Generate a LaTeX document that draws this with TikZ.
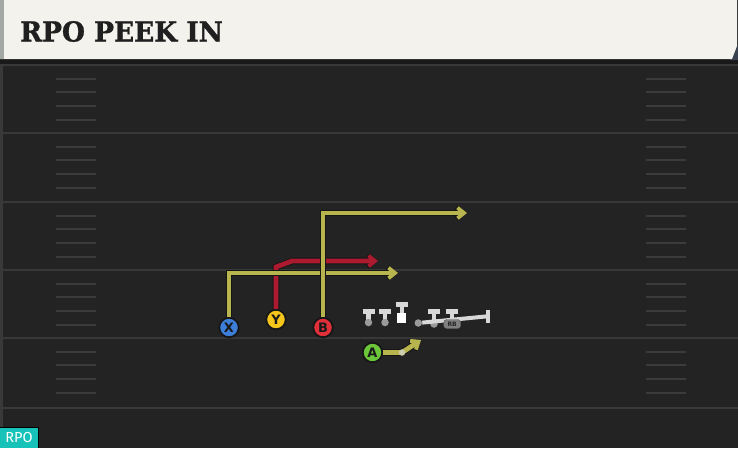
\documentclass[tikz,border=0pt]{standalone}
\usepackage{fontspec}
\usetikzlibrary{arrows.meta}
\newfontfamily\titlefont{DejaVu Serif}[BoldFeatures={FakeBold=1.2}]
\newfontfamily\lblfont{DejaVu Sans}
\newfontfamily\tagfont{Fira Sans}
\definecolor{fieldbg}{HTML}{232323}
\definecolor{fieldline}{HTML}{383838}
\definecolor{hashc}{HTML}{3B3B3B}
\definecolor{headbg}{HTML}{F4F2EC}
\definecolor{headstripe}{HTML}{A4A8A4}
\definecolor{cornerc}{HTML}{3A4250}
\definecolor{olive}{HTML}{B8B44E}
\definecolor{crimson}{HTML}{AC1A30}
\definecolor{xblue}{HTML}{3C7ED8}
\definecolor{yyellow}{HTML}{F4C61C}
\definecolor{bred}{HTML}{E2303A}
\definecolor{agreen}{HTML}{6CC63A}
\definecolor{olgray}{HTML}{D8D8D8}
\definecolor{dotgray}{HTML}{9A9A9A}
\definecolor{tealc}{HTML}{17C3B8}
\definecolor{casing}{HTML}{161616}
\tikzset{
  player/.style={circle, draw=casing, line width=1.8pt, minimum size=19.5pt, inner sep=0pt,
    font=\lblfont\bfseries\fontsize{13}{13}\selectfont, text=black!90},
  route/.style={line width=4.8pt, line join=miter, -{Straight Barb[length=6.5pt,width=10.5pt,line width=3.8pt]},
    preaction={draw=casing, line width=6.6pt, -{Straight Barb[length=6.5pt,width=10.5pt,line width=5.6pt]}}},
  yardline/.style={fieldline, line width=2pt},
  hashmark/.style={hashc, line width=2pt},
  blockbar/.style={olgray, line width=5pt},
  blockstem/.style={olgray, line width=4.2pt},
  lmdot/.style={circle, fill=dotgray, inner sep=0pt, minimum size=7.5pt},
}
\begin{document}
\begin{tikzpicture}[x=1pt,y=-1pt]
\useasboundingbox (0,0) rectangle (738,448);
% field
\fill[fieldbg] (0,0) rectangle (738,448);
\fill[black!28!fieldbg] (0,59) rectangle (738,64);
\fill[fieldbg!90!white] (0,64) rectangle (3,448);
% yard lines
\foreach \yy in {65,133,202,270,338,408}
  \draw[yardline] (0,\yy) -- (738,\yy);
% hash marks
\foreach \yy in {65,133,202,270,338}
  \foreach \k in {1,2,3,4} {
    \draw[hashmark] (56,\yy+13.7*\k) -- (96,\yy+13.7*\k);
    \draw[hashmark] (646,\yy+13.7*\k) -- (686,\yy+13.7*\k);
  }
% header
\fill[cornerc] (734,46) -- (738,46) -- (738,60) -- (730,60) -- cycle;
\fill[headbg] (0,0) -- (737,0) -- (737,46) -- (732,59) -- (0,59) -- cycle;
\fill[headstripe] (0,0) rectangle (4,59);
\node[anchor=base west, inner sep=0pt, xscale=0.96, font=\titlefont\bfseries\fontsize{27.5}{27.5}\selectfont, text=black!88] (title) at (20,41.5) {RPO PEEK IN};
% RPO tag
\fill[black] (0,427) rectangle (38.5,448);
\node[fill=tealc, anchor=south west, minimum width=37.5pt, minimum height=20pt, inner sep=0pt,
  text=white, font=\tagfont\fontsize{14.5}{14.5}\selectfont] (tag) at (0,448) {RPO};
% route coordinates
\coordinate (x1) at (229,273);
\coordinate (x2) at (398,273);
\coordinate (y1) at (276,267);
\coordinate (y2) at (292,261);
\coordinate (y3) at (378,261);
\coordinate (b1) at (323,213);
\coordinate (b2) at (467,213);
\coordinate (a1) at (402,352.5);
\coordinate (a2) at (421,340);
% players
\node[player, fill=xblue] (X) at (229,327.5) {X};
\node[player, fill=yyellow] (Y) at (276,319.5) {Y};
\node[player, fill=bred] (B) at (323,327.5) {B};
\node[player, fill=agreen] (A) at (372.5,352.5) {A};
% routes (red below olive)
\draw[route, crimson] (Y.north) -- (y1) -- (y2) -- (y3);
\draw[route, olive] (X.north) -- (x1) -- (x2);
\draw[route, olive] (B.north) -- (b1) -- (b2);
\draw[route, olive] (A.east) -- (a1) -- (a2);
\node[circle, fill=olgray!70!olive, inner sep=0pt, minimum size=6.5pt] (adot) at (a1) {};
% offensive line
\foreach \xx/\nm in {368.5/t1,385/t2} {
  \draw[blockstem] (\xx,311) -- (\xx,321);
  \draw[blockbar] (\xx-6,311) -- (\xx+6,311);
  \node[lmdot] (\nm) at (\xx,322.5) {};
}
% center
\draw[blockstem] (401.7,305) -- (401.7,313);
\draw[blockbar] (395.7,304.7) -- (407.7,304.7);
\node[fill=white, inner sep=0pt, minimum width=9pt, minimum height=10.5pt] (C) at (401.7,318) {};
% right side
\draw[blockstem] (434,311) -- (434,323);
\draw[blockbar] (428,311) -- (440,311);
\draw[blockstem] (451.7,311) -- (451.7,321);
\draw[blockbar] (445.7,311) -- (457.7,311);
\node[lmdot] (g1) at (418.3,323) {};
\node[lmdot] (g2) at (434,324) {};
\coordinate (rend) at (487.5,316.3);
\draw[olgray, line width=4pt] (g1) -- (rend);
\draw[olgray, line width=4pt] (487.5,310) -- (487.5,322.5);
\node[fill=black!50, draw=black!65, rounded corners=3pt, inner sep=0pt, minimum width=17pt, minimum height=9pt,
  font=\lblfont\bfseries\fontsize{6}{6}\selectfont, text=black!85] (RB) at (452.2,324) {RB};
\end{tikzpicture}
\end{document}
